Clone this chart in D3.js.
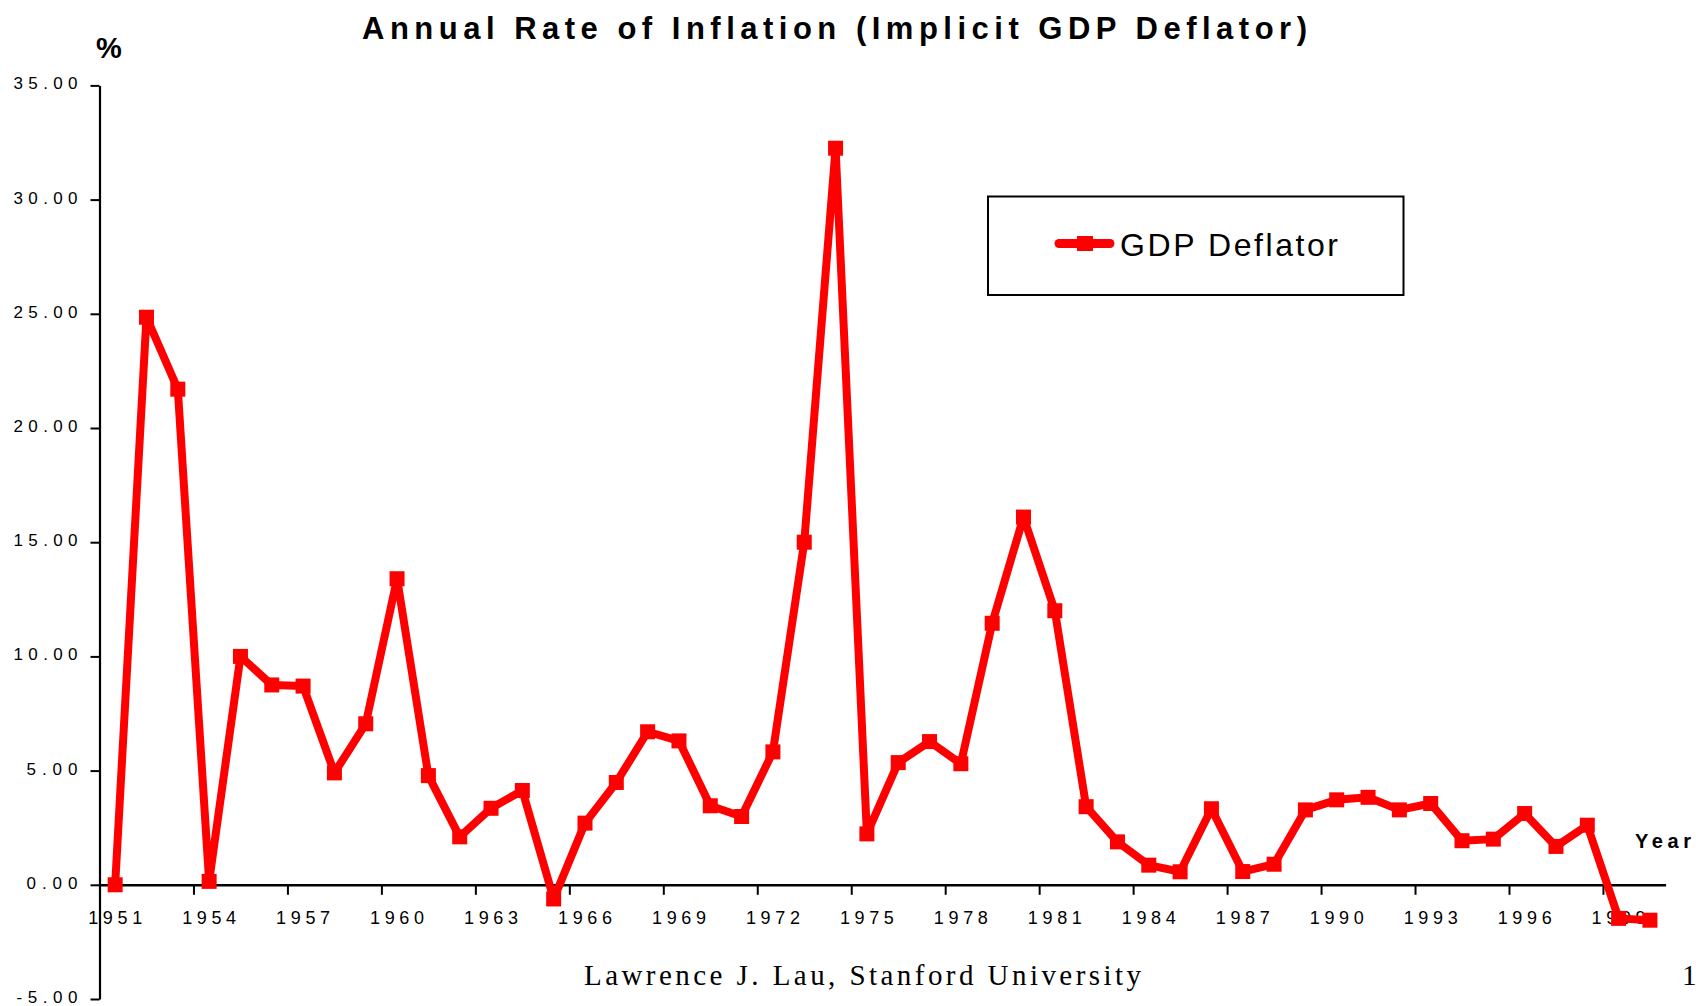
<!DOCTYPE html>
<html>
<head>
<meta charset="utf-8">
<script src="https://cdn.jsdelivr.net/npm/d3@7"></script>
<style>
  html, body { margin: 0; padding: 0; background: #fff; }
  svg { display: block; }
  text { font-family: "Liberation Sans", Arial, sans-serif; fill: #000; }
</style>
</head>
<body>
<svg id="chart" width="1696" height="1006"></svg>
<script>
// ---- data ----
const years = [1951,1952,1953,1954,1955,1956,1957,1958,1959,1960,
               1961,1962,1963,1964,1965,1966,1967,1968,1969,1970,
               1971,1972,1973,1974,1975,1976,1977,1978,1979,1980,
               1981,1982,1983,1984,1985,1986,1987,1988,1989,1990,
               1991,1992,1993,1994,1995,1996,1997,1998,1999,2000];
const gdpDeflator = [0.0,24.85,21.7,0.15,10.0,8.75,8.7,4.9,7.05,13.4,
                     4.78,2.1,3.35,4.13,-0.62,2.7,4.48,6.7,6.3,3.46,
                     2.99,5.82,15.0,32.25,2.23,5.35,6.27,5.3,11.45,16.1,
                     12.0,3.42,1.88,0.86,0.57,3.33,0.58,0.9,3.28,3.72,
                     3.83,3.28,3.56,1.93,2.0,3.12,1.68,2.61,-1.47,-1.55];
const yTicks = [-5,0,5,10,15,20,25,30,35];
const xLabelYears = [1951,1954,1957,1960,1963,1966,1969,1972,1975,1978,1981,1984,1987,1990,1993,1996,1999];
const seriesName = "GDP Deflator";
const titleText = "Annual Rate of Inflation (Implicit GDP Deflator)";
const yUnit = "%";
const xUnit = "Year";
const footerText = "Lawrence J. Lau, Stanford University";
const pageNumber = "1";

// ---- layout ----
const svg = d3.select("#chart");
const x0 = 99.5, x1 = 1665.6;
const yTop = 85.4, yBot = 999;
const red = "#ff0000";

const x = d3.scaleBand().domain(years).range([x0, x1]).padding(0);
const xb = d3.scaleLinear().domain([0, years.length]).range([x0, x1]);
const y = d3.scaleLinear().domain([-5, 35]).range([yBot, yTop]);

// title
svg.append("text")
  .attr("x", 834.5).attr("y", 39)
  .attr("text-anchor", "middle")
  .attr("font-size", 31).attr("font-weight", "bold")
  .attr("textLength", 945).attr("lengthAdjust", "spacing")
  .text(titleText);

// % label
svg.append("text")
  .attr("x", 96).attr("y", 58)
  .attr("font-size", 29).attr("font-weight", "bold")
  .text(yUnit);

// y axis
const fmtY = d => d3.format(".2f")(d).replace("\u2212", "-");
const yAxis = d3.axisLeft(y)
  .tickValues(yTicks)
  .tickFormat(fmtY)
  .tickSize(9).tickSizeOuter(0).tickPadding(13);
const gy = svg.append("g").attr("transform", `translate(${x0},0)`).call(yAxis);
gy.select(".domain").attr("stroke", "#000").attr("stroke-width", 2.2);
gy.selectAll(".tick line").attr("stroke", "#000").attr("stroke-width", 2);
gy.selectAll(".tick text")
  .attr("font-size", 17)
  .attr("dy", null).attr("y", 3.5)
  .attr("font-family", "'Liberation Sans', Arial, sans-serif")
  .attr("textLength", d => d < 0 ? 61 : (fmtY(d).length === 4 ? 51 : 64))
  .attr("lengthAdjust", "spacing");

// x axis labels (band centres)
const xAxisLabels = d3.axisBottom(x)
  .tickValues(xLabelYears)
  .tickSize(0).tickSizeOuter(0).tickPadding(0);
const gxl = svg.append("g").attr("transform", `translate(0,${y(0)})`).call(xAxisLabels);
gxl.select(".domain").remove();
gxl.selectAll(".tick text")
  .attr("font-size", 18)
  .attr("dy", null).attr("y", 39.5)
  .attr("font-family", "'Liberation Sans', Arial, sans-serif")
  .attr("textLength", 54).attr("lengthAdjust", "spacing");

// x axis line + boundary ticks every 3 categories
const boundaryTicks = d3.range(0, years.length, 3);
const xAxisTicks = d3.axisBottom(xb)
  .tickValues(boundaryTicks)
  .tickFormat("")
  .tickSize(10).tickSizeOuter(0);
const gx = svg.append("g").attr("transform", `translate(0,${y(0)})`).call(xAxisTicks);
gx.select(".domain").attr("stroke", "#000").attr("stroke-width", 2.6);
gx.selectAll(".tick line").attr("stroke", "#000").attr("stroke-width", 2);

// Year label
svg.append("text")
  .attr("x", 1635).attr("y", 848)
  .attr("font-size", 20).attr("font-weight", "bold")
  .attr("textLength", 56).attr("lengthAdjust", "spacing")
  .text(xUnit);

// series line
const pts = years.map((yr, i) => ({ yr, v: gdpDeflator[i] }));
const line = d3.line()
  .x(d => x(d.yr) + x.bandwidth() / 2)
  .y(d => y(d.v));
svg.append("path")
  .datum(pts)
  .attr("fill", "none")
  .attr("stroke", red)
  .attr("stroke-width", 8)
  .attr("stroke-linejoin", "round")
  .attr("d", line);

// markers
const ms = 15;
svg.append("g").selectAll("rect")
  .data(pts)
  .join("rect")
  .attr("x", d => x(d.yr) + x.bandwidth() / 2 - ms / 2)
  .attr("y", d => y(d.v) - ms / 2)
  .attr("width", ms).attr("height", ms)
  .attr("fill", red);

// legend
const lg = svg.append("g");
lg.append("rect")
  .attr("x", 988).attr("y", 196.5)
  .attr("width", 415.5).attr("height", 98.5)
  .attr("fill", "#fff").attr("stroke", "#000").attr("stroke-width", 2);
lg.append("line")
  .attr("x1", 1059).attr("x2", 1110)
  .attr("y1", 243.5).attr("y2", 243.5)
  .attr("stroke", red).attr("stroke-width", 9)
  .attr("stroke-linecap", "round");
lg.append("rect")
  .attr("x", 1077).attr("y", 236)
  .attr("width", 16).attr("height", 15)
  .attr("fill", red);
lg.append("text")
  .attr("x", 1120).attr("y", 256)
  .attr("font-size", 32)
  .attr("textLength", 218).attr("lengthAdjust", "spacing")
  .text(seriesName);

// footer
svg.append("text")
  .attr("x", 862.5).attr("y", 985)
  .attr("text-anchor", "middle")
  .attr("font-size", 29)
  .style("font-family", "'Liberation Serif', 'Times New Roman', serif")
  .attr("textLength", 557).attr("lengthAdjust", "spacing")
  .text(footerText);
svg.append("text")
  .attr("x", 1682).attr("y", 985)
  .attr("font-size", 29)
  .style("font-family", "'Liberation Serif', 'Times New Roman', serif")
  .text(pageNumber);
</script>
</body>
</html>
